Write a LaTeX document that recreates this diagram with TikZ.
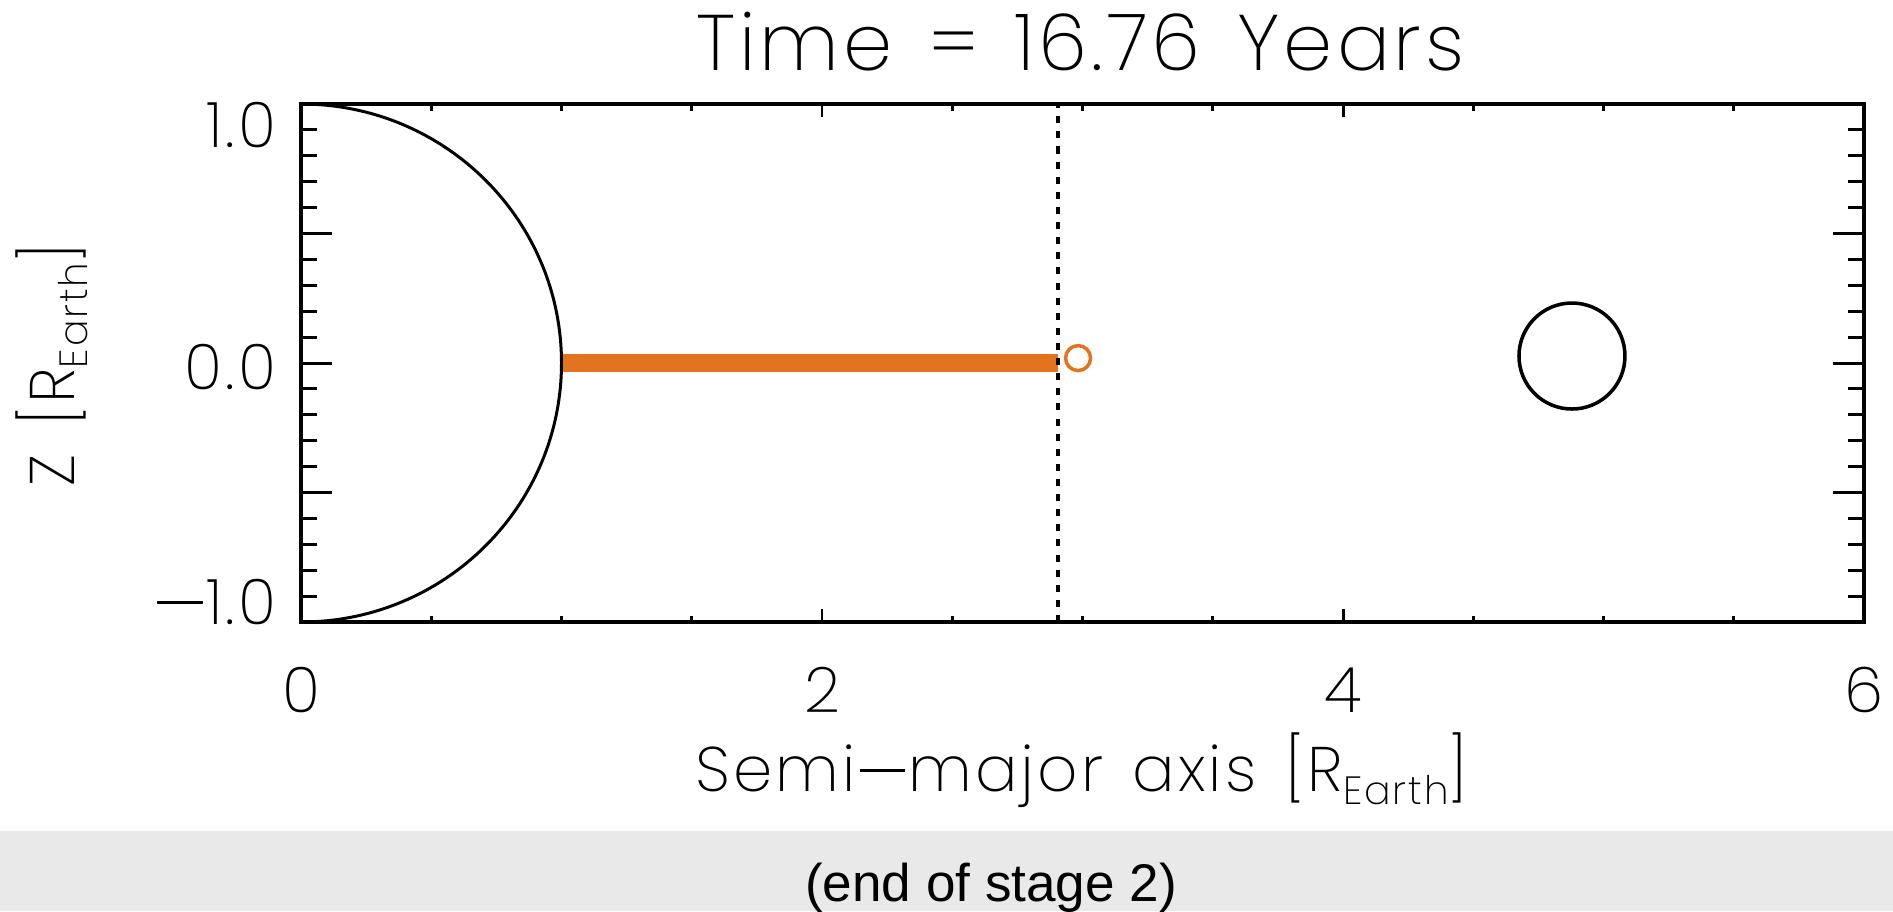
\documentclass[tikz,border=0pt]{standalone}
\usepackage{fontspec}
\usepackage{xcolor}
\usepackage{tikz}
\newfontfamily\idlfont{Poppins ExtraLight}[LetterSpace=5, WordSpace=1.4]
\newfontfamily\capfont{Liberation Sans}
\definecolor{idlOrange}{HTML}{E2731F}
\definecolor{bandGray}{HTML}{E9E9E9}
\newcommand{\idlsize}{\fontsize{17.9}{20}\selectfont}
\newcommand{\idltitlesize}{\fontsize{22.4}{26}\selectfont}
\newcommand{\idlminus}{\kern.06em\rule[.32em]{.72em}{.045em}\kern.06em}
\newcommand{\rearth}{R\raisebox{-.2em}{\fontsize{11.2}{12}\selectfont Earth}}
\tikzset{
 axtick/.style={line width=0.85pt},
 ticklabel/.style={font=\idlfont\idlsize, inner sep=0pt},
}

\begin{document}
\begin{tikzpicture}[x=2.605cm, y=2.59cm]
\useasboundingbox (-1.15547,-2.11583) rectangle (6.11132,1.40154);
\fill[bandGray] (-1.15547,-2.11583) rectangle (6.11132,-1.8069);
\node[font=\capfont\fontsize{15.1}{18}\selectfont, inner sep=0pt, anchor=base] (caption) at (2.649,-2.081) {(end of stage 2)};
\draw[idlOrange, line width=5.1pt] (1,0) -- (2.905,0);
\draw[line width=1.1pt, dash pattern=on 2pt off 2.3pt] (2.905,-1) -- (2.905,1);
\draw[line width=0.85pt] (0,1) arc[start angle=90, end angle=-90, x radius=2.605cm, y radius=2.59cm];
\draw[idlOrange, line width=1pt] (2.983,0.019) circle[radius=0.125cm];
\draw[line width=1pt] (4.879,0.027) circle[radius=0.53cm];
\foreach \k in {-9,...,9} {
 \draw[axtick] (0,\k/10) -- ++(0.16cm,0pt);
 \draw[axtick] (6,\k/10) -- ++(-0.16cm,0pt);
}
\foreach \y in {-0.5,0,0.5} {
 \draw[axtick] (0,\y) -- ++(0.31cm,0pt);
 \draw[axtick] (6,\y) -- ++(-0.31cm,0pt);
}
\foreach \x in {0.5,1,...,5.5} {
 \draw[axtick] (\x,1) -- ++(0pt,-0.065cm);
 \draw[axtick] (\x,-1) -- ++(0pt,0.065cm);
}
\foreach \x in {2,4} {
 \draw[axtick] (\x,1) -- ++(0pt,-0.13cm);
 \draw[axtick] (\x,-1) -- ++(0pt,0.13cm);
}
\draw[line width=1pt] (0,-1) rectangle (6,1);
\node[ticklabel, anchor=east] (ylabtop) at (-0.092,0.919) {1.0};
\node[ticklabel, anchor=east] (ylabmid) at (-0.092,-0.015) {0.0};
\node[ticklabel, anchor=east] (ylabbot) at (-0.092,-0.921) {\idlminus1.0};
\foreach \x in {0,2,4,6}
 \node[ticklabel, anchor=base] (xlab\x) at (\x,-1.351) {\x};
\node[ticklabel, anchor=base] (xtitle) at (2.996,-1.656) {Semi\idlminus major axis [\rearth]};
\node[ticklabel, anchor=base, rotate=90] (ytitle) at (-0.8676,-0.008) {Z [\rearth]};
\node[font=\idlfont\idltitlesize, inner sep=0pt, anchor=base] (title) at (2.992,1.131) {Time = 16.76 Years};
\end{tikzpicture}
\end{document}
